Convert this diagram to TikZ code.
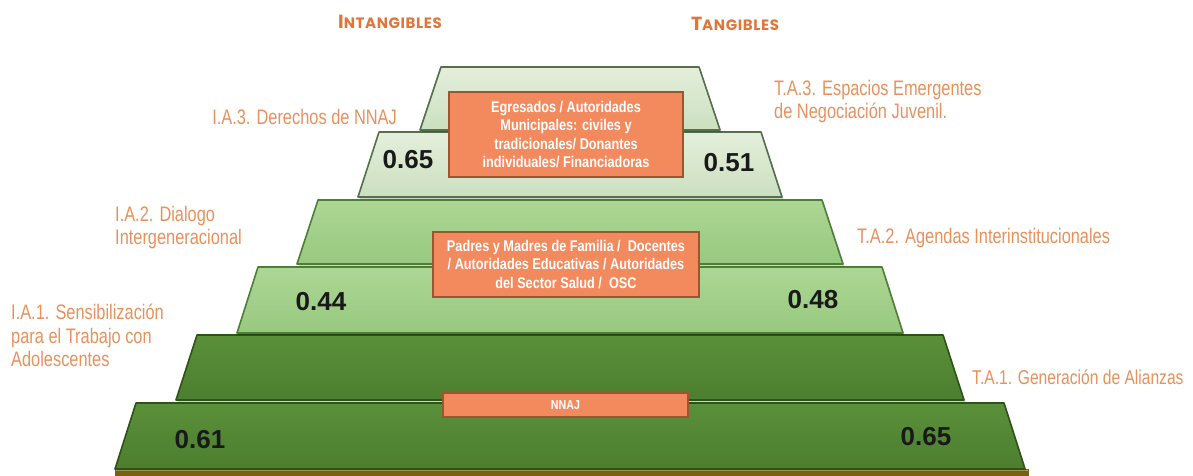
\documentclass[tikz,border=0pt]{standalone}
\usepackage{fontspec}
\setmainfont{Liberation Sans}
\newfontfamily\lblfont[FakeStretch=0.78]{Liberation Sans}
\newfontfamily\boxfont[FakeStretch=0.82]{Liberation Sans}
\newfontfamily\headfont[LetterSpace=4]{Poppins}

\definecolor{lblorange}{HTML}{E8915C}
\definecolor{headorange}{HTML}{E0763A}
\definecolor{boxfill}{HTML}{F38A5E}
\definecolor{boxedge}{HTML}{9A5630}
\definecolor{paleA}{HTML}{E4EFDB}
\definecolor{paleB}{HTML}{CCDFC0}
\definecolor{paleEdge}{HTML}{55704A}
\definecolor{midA}{HTML}{ACD694}
\definecolor{midB}{HTML}{98C980}
\definecolor{midEdge}{HTML}{4E7E38}
\definecolor{darkA}{HTML}{5B903A}
\definecolor{darkB}{HTML}{4C7E2F}
\definecolor{darkEdge}{HTML}{2C5419}
\definecolor{goldline}{HTML}{C2B264}
\definecolor{goldbar}{HTML}{75630F}

% one step of the pyramid: style, top y, bottom y, half width at the top
\newcommand\pyrstep[4]{%
  \fill[black,opacity=0.18] ({570-#4+1.5},{#2+2}) -- ({570+#4+1.5},{#2+2})
     -- ({570+#4+22.5},{#3+2}) -- ({570-#4-19.5},{#3+2}) -- cycle;
  \path[#1] ({570-#4},{#2}) -- ({570+#4},{#2}) -- ({570+#4+21},{#3})
     -- ({570-#4-21},{#3}) -- cycle;}

\begin{document}
\begin{tikzpicture}[x=1pt,y=-1pt,
  pale/.style={top color=paleA,bottom color=paleB,draw=paleEdge,line width=1.6pt,line join=round},
  mid/.style={top color=midA,bottom color=midB,draw=midEdge,line width=1.6pt,line join=round},
  dark/.style={top color=darkA,bottom color=darkB,draw=darkEdge,line width=1.6pt,line join=round},
  heading/.style={text=headorange,inner sep=0pt},
  label/.style={text=lblorange,inner sep=0pt,font=\lblfont\fontsize{21}{23.5}\selectfont},
  score/.style={text=black!90,inner sep=0pt,font=\fontsize{26}{26}\selectfont\bfseries},
  actor/.style={fill=boxfill,draw=boxedge,line width=1.1pt,text=white,inner sep=0pt,
     align=center,font=\boxfont\bfseries\fontsize{15.5}{18.5}\selectfont}]
\useasboundingbox[fill=white] (0,0) rectangle (1193,476);

% base bar
\fill[goldbar] (115,469) rectangle (1029,476);
\draw[goldline,line width=1.2pt] (116,470.5) -- (1028,470.5);

% pyramid, from the bottom step upwards
\pyrstep{dark}{403}{469}{434}
\pyrstep{dark}{335}{400}{373}
\pyrstep{mid}{267}{333}{312}
\pyrstep{mid}{200}{264}{252}
\pyrstep{pale}{132}{197}{191}
\pyrstep{pale}{67}{130}{129}

% stakeholder boxes
\node[actor,minimum width=234pt,minimum height=85pt] (egresados) at (566,134.5)
  {Egresados / Autoridades\\Municipales: civiles y\\tradicionales/ Donantes\\individuales/ Financiadoras};
\node[actor,minimum width=266pt,minimum height=65pt] (padres) at (566,264.5)
  {Padres y Madres de Familia /\ \ Docentes\\/ Autoridades Educativas / Autoridades\\del Sector Salud /\ \ OSC};
\node[actor,minimum width=245pt,minimum height=24pt,font=\boxfont\bfseries\fontsize{13}{15}\selectfont] (nnaj) at (565.5,405) {NNAJ};

% scores
\node[score] (s3l) at (408,160) {0.65};
\node[score] (s3r) at (729,163) {0.51};
\node[score] (s2l) at (321,302) {0.44};
\node[score] (s2r) at (813,300) {0.48};
\node[score] (s1l) at (200,440) {0.61};
\node[score] (s1r) at (926,437) {0.65};

% column headings
\node[heading] (intang) at (390,22) {\headfont\bfseries{\fontsize{19}{19}\selectfont I}{\fontsize{15}{15}\selectfont NTANGIBLES}};
\node[heading] (tang) at (735,24) {\headfont\bfseries{\fontsize{19}{19}\selectfont T}{\fontsize{15}{15}\selectfont ANGIBLES}};

% indicator labels
\node[label,anchor=base east] (ia3) at (397,124.5) {I.A.3. Derechos de NNAJ};
\node[label,anchor=base west,align=left] (ta3) at (774,118.5) {T.A.3. Espacios Emergentes\\de Negociación Juvenil.};
\node[label,anchor=base west,align=left] (ia2) at (115,244.5) {I.A.2. Dialogo\\Intergeneracional};
\node[label,anchor=base west] (ta2) at (857,243.5) {T.A.2. Agendas Interinstitucionales};
\node[label,anchor=base west,align=left] (ia1) at (11,366.5) {I.A.1. Sensibilización\\para el Trabajo con\\Adolescentes};
\node[label,anchor=base west,font=\lblfont\fontsize{20}{23.5}\selectfont] (ta1) at (972,384) {T.A.1. Generación de Alianzas};
\end{tikzpicture}
\end{document}
